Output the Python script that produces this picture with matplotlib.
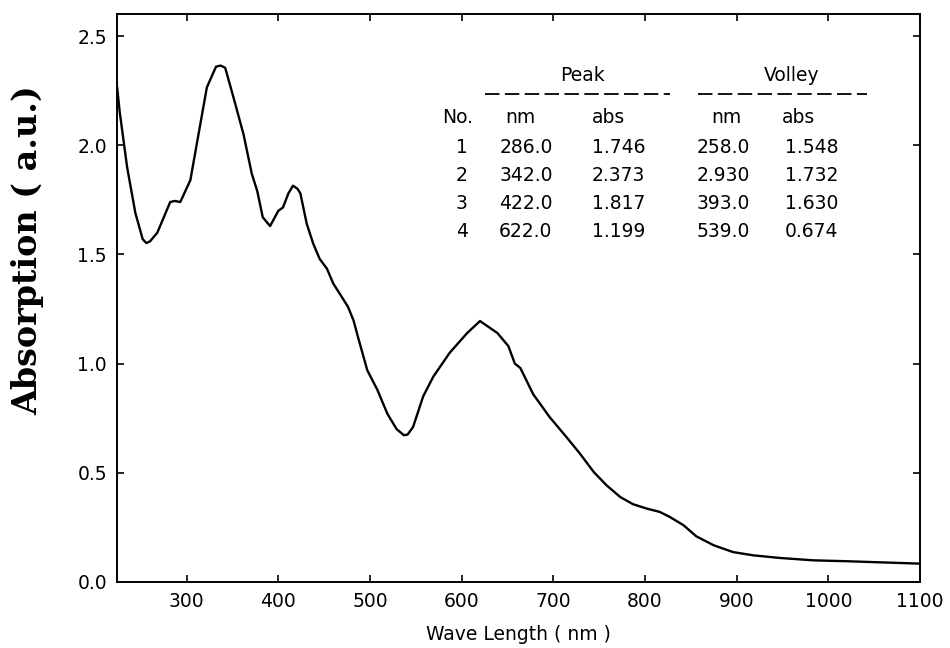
import matplotlib
matplotlib.use("Agg")
import matplotlib.pyplot as plt
import numpy as np

# ---- data ----
wavelength = [224, 227, 235, 244, 252, 256, 260, 268, 282, 287, 293, 304, 315, 322, 332, 337,
              342, 351, 362, 371, 377, 383, 391, 400, 405, 411, 416, 421, 424, 431, 438, 445,
              453, 460, 467, 476, 482, 487, 497, 508, 519, 529, 537, 541, 547, 558, 569, 587,
              606, 620, 639, 651, 658, 664, 678, 696, 715, 729, 744, 758, 773, 787, 802, 816,
              827, 842, 856, 875, 896, 918, 947, 984, 1020, 1056, 1100]
absorption = [2.27, 2.15, 1.90, 1.69, 1.57, 1.552, 1.56, 1.60, 1.74, 1.745, 1.74, 1.84, 2.10, 2.265,
              2.36, 2.365, 2.355, 2.22, 2.05, 1.87, 1.79, 1.67, 1.63, 1.70, 1.715, 1.78, 1.815, 1.80,
              1.78, 1.64, 1.55, 1.48, 1.435, 1.366, 1.32, 1.26, 1.198, 1.12, 0.97, 0.88, 0.77, 0.70,
              0.672, 0.675, 0.71, 0.85, 0.94, 1.05, 1.14, 1.195, 1.14, 1.08, 1.00, 0.98, 0.86, 0.755,
              0.66, 0.588, 0.504, 0.443, 0.389, 0.356, 0.336, 0.321, 0.298, 0.26, 0.209, 0.168,
              0.137, 0.122, 0.11, 0.099, 0.095, 0.090, 0.084]

x_ticks = [300, 400, 500, 600, 700, 800, 900, 1000, 1100]
y_ticks = [0.0, 0.5, 1.0, 1.5, 2.0, 2.5]

row_no = ["1", "2", "3", "4"]
peak_nm = ["286.0", "342.0", "422.0", "622.0"]
peak_abs = ["1.746", "2.373", "1.817", "1.199"]
valley_nm = ["258.0", "2.930", "393.0", "539.0"]
valley_abs = ["1.548", "1.732", "1.630", "0.674"]

# ---- figure ----
fig = plt.figure(figsize=(9.5, 6.48), dpi=100)
ax = fig.add_axes([0.1228, 0.1019, 0.9684 - 0.1228, 0.978 - 0.1019])

ax.plot(wavelength, absorption, color="black", lw=1.7, solid_joinstyle="round",
        solid_capstyle="round")

ax.set_xlim(223.6, 1100)
ax.set_ylim(0, 2.6)
ax.set_xticks(x_ticks)
ax.set_yticks(y_ticks)
ax.set_yticklabels([f"{v:.1f}" for v in y_ticks])
ax.tick_params(direction="in", length=5, width=1.2, top=True, right=True,
               labelsize=13.5, pad=7)
for s in ax.spines.values():
    s.set_linewidth(1.4)

ax.set_xlabel("Wave Length ( nm )", fontsize=13.5, labelpad=10)
ax.set_ylabel("Absorption ( a.u.)", fontsize=24, fontweight="bold",
              family="DejaVu Serif")
ax.yaxis.set_label_coords(-0.09, 0.584)

# ---- peak / valley table ----
fs = 13.5
ax.text(732, 2.32, "Peak", fontsize=fs, ha="center", va="center")
ax.text(960, 2.32, "Volley", fontsize=fs, ha="center", va="center")
ax.plot([625, 827], [2.237, 2.237], color="black", lw=1.3, dashes=(8, 3))
ax.plot([858, 1042], [2.237, 2.237], color="black", lw=1.3, dashes=(8, 3))

hy = 2.127
ax.text(596, hy, "No.", fontsize=fs, ha="center", va="center")
ax.text(664, hy, "nm", fontsize=fs, ha="center", va="center")
ax.text(760, hy, "abs", fontsize=fs, ha="center", va="center")
ax.text(889, hy, "nm", fontsize=fs, ha="center", va="center")
ax.text(967, hy, "abs", fontsize=fs, ha="center", va="center")

row_y = [1.99, 1.861, 1.733, 1.605]
for i, y in enumerate(row_y):
    ax.text(600, y, row_no[i], fontsize=fs, ha="center", va="center")
    ax.text(670, y, peak_nm[i], fontsize=fs, ha="center", va="center")
    ax.text(771, y, peak_abs[i], fontsize=fs, ha="center", va="center")
    ax.text(885, y, valley_nm[i], fontsize=fs, ha="center", va="center")
    ax.text(982, y, valley_abs[i], fontsize=fs, ha="center", va="center")

fig.savefig("out.png", dpi=100)
